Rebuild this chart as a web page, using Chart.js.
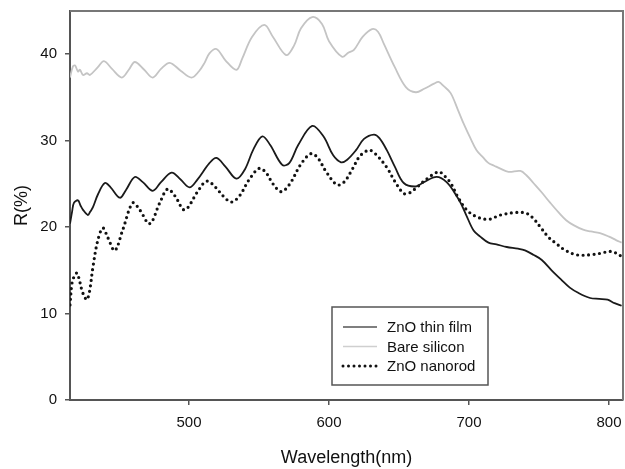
<!DOCTYPE html>
<html>
<head>
<meta charset="utf-8">
<script src="https://cdn.jsdelivr.net/npm/chart.js@4.4.1/dist/chart.umd.min.js"></script>
<style>
  body { margin: 0; background: #fff; }
  #wrap { width: 625px; height: 469px; }
</style>
</head>
<body>
<div id="wrap"><canvas id="reflect"></canvas></div>
<script>
// tick labels
var xTicks = [500, 600, 700, 800];
var yTicks = [0, 10, 20, 30, 40];

// ZnO thin film
var filmWl = [415, 416.5, 417.8, 420.7, 422.5, 424.3, 427.8, 429.5, 431.4, 435, 439.9, 444, 450.6, 455, 461.3, 467, 474.1, 480,
    487.6, 494, 500.4, 506, 514.6, 519.6, 526, 533.9, 540, 546, 552.4, 558, 566.6, 571.6, 578, 588, 596, 603, 608.6, 613, 619.3,
    625, 632.1, 636, 641.3, 647, 653.4, 662, 667.7, 676.9, 684, 690, 694, 698, 703.3, 708, 713.9, 719.6, 727, 735, 740, 746,
    752, 759, 766, 772, 778, 786.5, 793, 799, 804, 809];
var filmR = [20.4, 21.8, 22.8, 23.1, 22.5, 22.0, 21.4, 21.8, 22.3, 23.8, 25.1, 24.6, 23.4, 24.3, 25.8, 25.2, 24.2, 25.2,
    26.3, 25.5, 24.6, 25.5, 27.4, 28.0, 27.0, 25.6, 26.7, 29.0, 30.5, 29.5, 27.2, 27.4, 29.5, 31.7, 30.5, 28.3, 27.5, 27.8, 28.9,
    30.2, 30.7, 30.3, 28.9, 27.0, 25.1, 24.7, 25.2, 25.8, 25.2, 23.9, 22.8, 21.4, 19.6, 18.9, 18.2, 18.0, 17.7, 17.5, 17.3, 16.8,
    16.2, 15.0, 13.9, 13.0, 12.4, 11.8, 11.7, 11.6, 11.2, 10.9];

// Bare silicon
var siliconWl = [415, 417.1, 418.6, 420.7, 422.1, 424.3, 427.1, 429.2, 434.9, 439.2, 445, 452, 457, 461.3, 468, 474.1, 480,
    486.2, 494, 501.8, 507, 511.1, 514.6, 519.6, 526, 533.9, 538, 545, 553.8, 560, 569.4, 575, 580, 588, 595, 600, 609.3, 614,
    617.8, 624, 630.7, 635, 639.2, 647, 654.9, 662, 668, 675, 678.3, 682, 686.9, 692, 696.1, 701, 705.4, 710.4, 714, 718, 722,
    728.2, 736.7, 741, 746, 752, 758.1, 764, 769.4, 775, 781.5, 787, 793.6, 800, 805, 809];
var siliconR = [37.3, 38.6, 38.7, 38.0, 38.2, 37.6, 37.8, 37.6, 38.5, 39.2, 38.3, 37.3, 38.2, 39.1, 38.2, 37.3, 38.3,
    39.0, 38.1, 37.3, 38.0, 39.0, 40.1, 40.6, 39.3, 38.2, 39.5, 42.0, 43.4, 42.0, 39.9, 41.0, 43.0, 44.3, 43.5, 41.5, 39.7, 40.2,
    40.5, 42.0, 42.9, 42.6, 41.2, 38.5, 36.2, 35.6, 36.0, 36.6, 36.8, 36.3, 35.5, 33.6, 32.0, 30.3, 28.9, 28.0, 27.4, 27.1, 26.8,
    26.4, 26.5, 26.0, 25.1, 24.0, 22.8, 21.7, 20.8, 20.2, 19.7, 19.5, 19.3, 18.9, 18.5, 18.2];

// ZnO nanorod
var rodWl = [415, 416.4, 418, 420, 421.5, 423.5, 425.5, 427.1, 429, 431.4, 434.9, 438.5, 442, 447, 452.7, 459.8, 464.8,
    471.9, 479.1, 484.7, 490, 496.9, 506.1, 511.1, 514, 519, 525, 530.3, 536, 543, 550.2, 555, 560, 565.9, 572, 580, 587.2,
    592, 598, 605.7, 610.7, 617, 622, 628.5, 633, 641.3, 647, 653.4, 658, 662.7, 670, 678.3, 682, 686.9, 692, 698.3, 705.4,
    713.9, 722.5, 733.9, 741, 746, 751, 757, 762.3, 768, 776.6, 786.5, 795, 800, 805, 809];
var rodR = [11.0, 13.5, 14.3, 14.7, 14.0, 12.7, 11.9, 11.6, 12.6, 15.4, 18.5, 19.9, 18.8, 17.3, 19.7, 22.8, 22.0,
    20.4, 22.8, 24.4, 23.6, 22.0, 24.1, 25.2, 25.3, 24.6, 23.5, 22.9, 23.6, 25.5, 26.8, 26.3, 25.0, 24.1, 25.0, 27.3, 28.5,
    28.0, 26.4, 24.9, 25.2, 26.8, 28.2, 28.9, 28.5, 26.9, 25.3, 23.9, 24.0, 24.6, 25.6, 26.4, 26.0, 25.1, 23.5, 22.0, 21.2,
    20.9, 21.4, 21.7, 21.6, 21.0, 20.0, 18.8, 18.1, 17.4, 16.8, 16.8, 17.0, 17.2, 17.0, 16.6];

function toPoints(xs, ys) {
    return xs.map(function (x, i) { return { x: x, y: ys[i] }; });
}

// the plot box is fixed, so drop the label overhang padding
function noOverhang(s) {
    s.paddingTop = 0;
    s.paddingBottom = 0;
    s.paddingLeft = 0;
    s.paddingRight = 0;
}

Chart.defaults.font.family = "'Liberation Sans', Arial, sans-serif";
Chart.defaults.color = '#111';

// legend box drawn inside the plot, lower middle
var boxLegend = {
    id: 'boxLegend',
    afterDraw: function (chart) {
        var ctx = chart.ctx;
        var bx = 332, by = 307, bw = 156, bh = 78;
        ctx.save();
        ctx.fillStyle = '#fff';
        ctx.fillRect(bx, by, bw, bh);
        ctx.strokeStyle = '#555';
        ctx.lineWidth = 1.5;
        ctx.strokeRect(bx, by, bw, bh);
        ctx.font = "15px 'Liberation Sans', Arial, sans-serif";
        ctx.textBaseline = 'middle';
        chart.data.datasets.forEach(function (ds, i) {
            var y = by + 20 + i * 19.5;
            ctx.beginPath();
            ctx.strokeStyle = ds.legendColor;
            ctx.lineWidth = ds.borderDash ? 3 : 1.6;
            ctx.lineCap = ds.borderDash ? 'round' : 'butt';
            ctx.setLineDash(ds.borderDash || []);
            ctx.moveTo(bx + 11, y);
            ctx.lineTo(bx + 45, y);
            ctx.stroke();
            ctx.setLineDash([]);
            ctx.fillStyle = '#111';
            ctx.fillText(ds.label, bx + 55, y + 1);
        });
        ctx.restore();
    }
};

// top and right edges of the frame
var frame = {
    id: 'frame',
    afterDraw: function (chart) {
        var a = chart.chartArea, ctx = chart.ctx;
        ctx.save();
        ctx.strokeStyle = '#777';
        ctx.lineWidth = 2;
        ctx.beginPath();
        ctx.moveTo(a.left, a.top);
        ctx.lineTo(a.right, a.top);
        ctx.lineTo(a.right, a.bottom);
        ctx.stroke();
        ctx.restore();
    }
};

new Chart(document.getElementById('reflect'), {
    type: 'line',
    data: {
        datasets: [{
            label: 'ZnO thin film',
            data: toPoints(filmWl, filmR),
            borderColor: '#1a1a1a',
            legendColor: '#555',
            borderWidth: 1.8,
            pointRadius: 0,
            tension: 0.35
        }, {
            label: 'Bare silicon',
            data: toPoints(siliconWl, siliconR),
            borderColor: '#c4c4c4',
            legendColor: '#cfcfcf',
            borderWidth: 1.8,
            pointRadius: 0,
            tension: 0.35
        }, {
            label: 'ZnO nanorod',
            data: toPoints(rodWl, rodR),
            borderColor: '#111',
            legendColor: '#111',
            borderWidth: 3.2,
            borderDash: [0, 5.5],
            borderCapStyle: 'round',
            pointRadius: 0,
            tension: 0.35
        }]
    },
    options: {
        responsive: true,
        maintainAspectRatio: false,
        animation: false,
        events: [],
        layout: { padding: { top: 11, right: 2, left: 0, bottom: 0 } },
        plugins: {
            legend: { display: false },
            tooltip: { enabled: false }
        },
        scales: {
            x: {
                type: 'linear',
                min: 415,
                max: 810,
                afterBuildTicks: function (s) { s.ticks = xTicks.map(function (v) { return { value: v }; }); },
                afterFit: function (s) { s.height = 69; noOverhang(s); },
                grid: { display: true, drawOnChartArea: false, drawTicks: true, tickLength: 5, color: '#555', lineWidth: 1.5 },
                border: { display: true, color: '#555', width: 2 },
                ticks: { font: { size: 15 }, color: '#111', padding: 9, maxRotation: 0 },
                title: { display: true, text: 'Wavelength(nm)', font: { size: 18 }, color: '#111', padding: { top: 1, bottom: 0 } }
            },
            y: {
                type: 'linear',
                min: 0,
                max: 45,
                afterBuildTicks: function (s) { s.ticks = yTicks.map(function (v) { return { value: v }; }); },
                afterFit: function (s) { s.width = 70; noOverhang(s); },
                grid: { display: true, drawOnChartArea: false, drawTicks: true, tickLength: 5, color: '#555', lineWidth: 1.5 },
                border: { display: true, color: '#555', width: 2 },
                ticks: { font: { size: 15 }, color: '#111', padding: 8 },
                title: { display: true, text: 'R(%)', font: { size: 18 }, color: '#111', padding: { top: 11, bottom: 0 } }
            }
        }
    },
    plugins: [boxLegend, frame]
});
</script>
</body>
</html>
